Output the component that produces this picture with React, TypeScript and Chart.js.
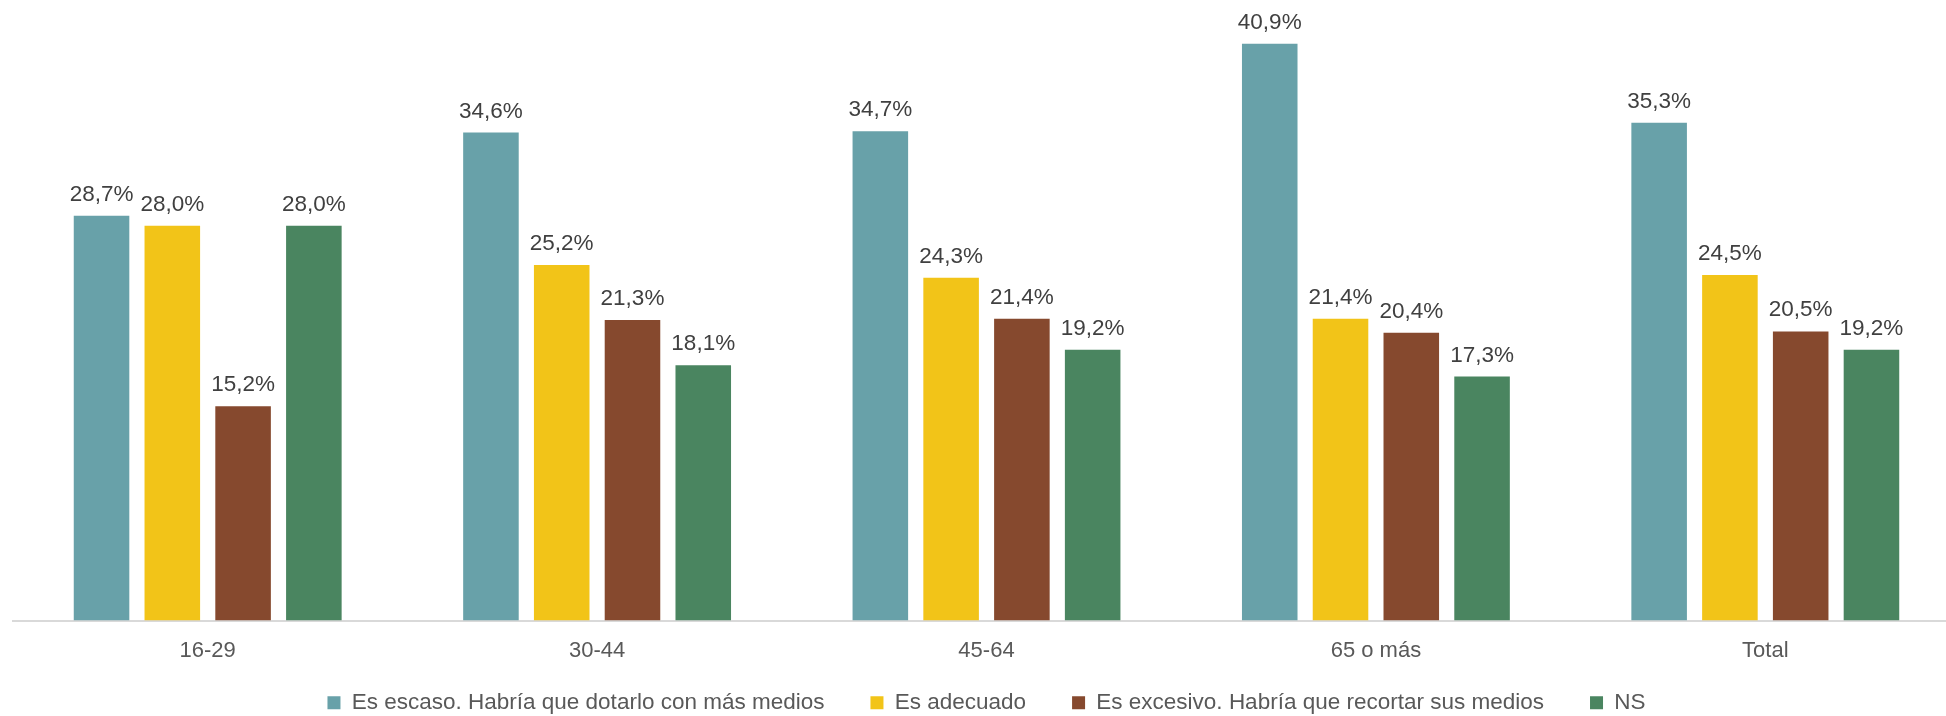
import { useEffect, useRef } from "react";
import { Chart, registerables } from "chart.js";

Chart.register(...registerables);

const categories = ["16-29", "30-44", "45-64", "65 o más", "Total"];
const seriesNames = [
  "Es escaso. Habría que dotarlo con más medios",
  "Es adecuado",
  "Es excesivo. Habría que recortar sus medios",
  "NS",
];
const escaso = [28.7, 34.6, 34.7, 40.9, 35.3];
const adecuado = [28.0, 25.2, 24.3, 21.4, 24.5];
const excesivo = [15.2, 21.3, 21.4, 20.4, 20.5];
const ns = [28.0, 18.1, 19.2, 17.3, 19.2];
const colors = ["#68A1A9", "#F2C418", "#86492E", "#4A8560"];

const FONT = "'Liberation Sans', Arial, sans-serif";

const dataLabels = {
  id: "dataLabels",
  afterDatasetsDraw(chart: any) {
    const ctx = chart.ctx;
    ctx.save();
    ctx.font = `22.5px ${FONT}`;
    ctx.fillStyle = "#404040";
    ctx.textAlign = "center";
    ctx.textBaseline = "alphabetic";
    chart.data.datasets.forEach((ds: any, i: number) => {
      const meta = chart.getDatasetMeta(i);
      meta.data.forEach((el: any, j: number) => {
        const v = ds.data[j] as number;
        ctx.fillText(v.toFixed(1).replace(".", ",") + "%", el.x, el.y - 15);
      });
    });
    ctx.restore();
  },
};

export default function App() {
  const ref = useRef<HTMLCanvasElement | null>(null);

  useEffect(() => {
    if (!ref.current) return;
    const series = [escaso, adecuado, excesivo, ns];
    const chart = new Chart(ref.current, {
      type: "bar",
      data: {
        labels: categories,
        datasets: series.map((d, i) => ({
          label: seriesNames[i],
          data: d,
          backgroundColor: colors[i],
          borderWidth: 0,
          categoryPercentage: 0.727,
          barPercentage: 0.785,
        })),
      },
      options: {
        responsive: false,
        animation: false,
        devicePixelRatio: 1,
        layout: { padding: { left: 13, right: 0, top: 0, bottom: 0 } },
        plugins: {
          legend: {
            position: "bottom",
            labels: {
              boxWidth: 13,
              boxHeight: 13,
              padding: 21,
              color: "#595959",
              font: { size: 22.5, family: FONT },
              generateLabels(chart: any) {
                const items = Chart.defaults.plugins.legend.labels.generateLabels(chart);
                return items.map((it: any, i: number) =>
                  i < items.length - 1 ? { ...it, text: it.text + "    " } : it
                );
              },
            },
          },
          tooltip: { enabled: false },
        },
        scales: {
          x: {
            grid: { display: false, drawTicks: false },
            border: { display: true, color: "#D9D9D9", width: 2 },
            ticks: {
              padding: 17,
              color: "#595959",
              font: { size: 22, family: FONT },
              maxRotation: 0,
            },
            afterFit(scale: any) {
              scale.height = 50;
            },
          },
          y: {
            display: false,
            min: 0,
            max: 44,
          },
        },
      },
      plugins: [dataLabels],
    });
    return () => chart.destroy();
  }, []);

  return (
    <div
      style={{
        position: "fixed",
        left: 0,
        top: 0,
        width: 1946,
        height: 716,
        overflow: "hidden",
        background: "#ffffff",
      }}
    >
      <canvas ref={ref} width={1960} height={724} style={{ display: "block" }} />
    </div>
  );
}
